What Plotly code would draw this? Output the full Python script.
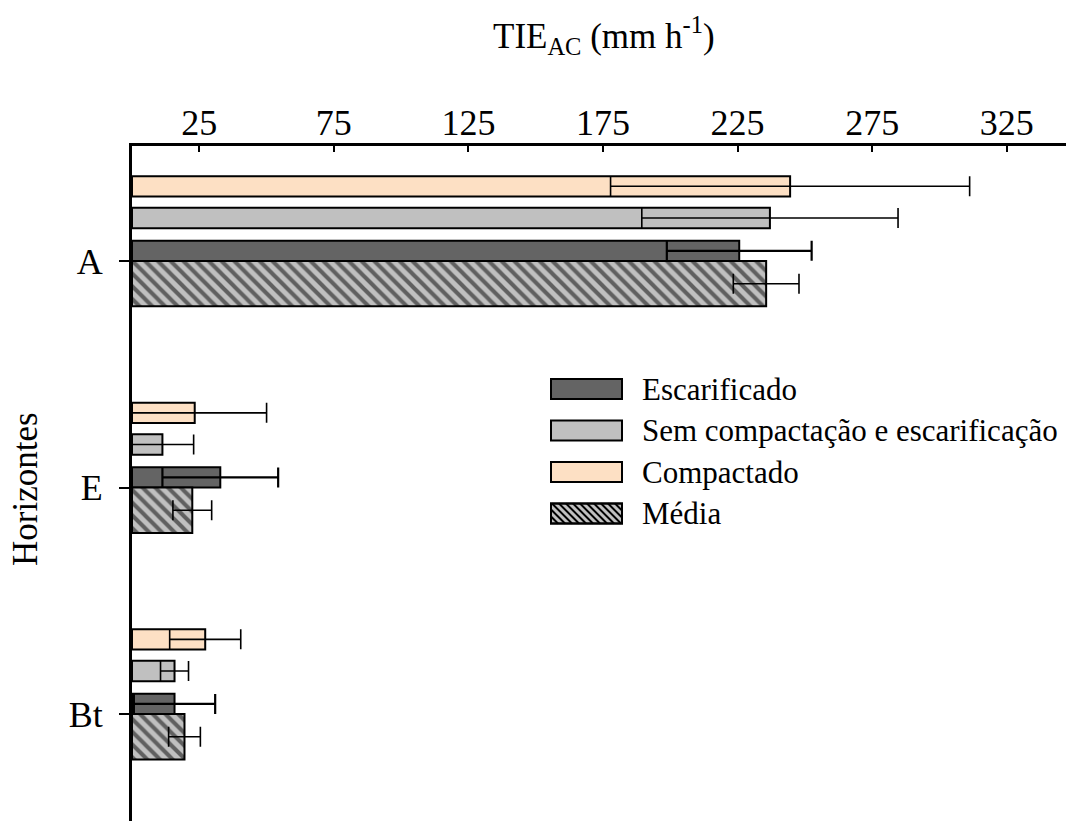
import plotly.graph_objects as go

# ---------------- data ----------------
horizons = ["A", "E", "Bt"]
series_names = ["Compactado", "Sem compactação e escarificação", "Escarificado", "Média"]
compactado = [244.5, 23.3, 27.2]
compactado_err = [66.7, 26.7, 13.2]
sem = [237.0, 11.3, 15.8]
sem_err = [47.6, 11.6, 5.2]
escarificado = [225.6, 32.8, 15.8]
escarificado_err = [26.9, 21.5, 15.1]
media = [235.6, 22.4, 19.5]
media_err = [12.2, 7.2, 5.9]
x_ticks = [25, 75, 125, 175, 225, 275, 325]

# ---------------- layout constants ----------------
FIG_W, FIG_H = 1066, 821
L, R, T, B = 132, 0, 146, 0
PW, PH = FIG_W - L - R, FIG_H - T - B
FONT = "Liberation Serif, Times New Roman, serif"

def px_x(px):
    return (px - L) / PW

def px_y(py):
    return 1 - (py - T) / PH

fig = go.Figure()

styles = {
    "Compactado": dict(color="#fde0c4", offset=-0.375, width=0.09, err_w=1.6),
    "Sem compactação e escarificação": dict(color="#c0c0c0", offset=-0.235, width=0.09, err_w=1.6),
    "Escarificado": dict(color="#646464", offset=-0.09, width=0.09, err_w=2.2),
    "Média": dict(color="#c0c0c0", offset=0.0, width=0.2, err_w=1.6),
}
vals = {
    "Compactado": (compactado, compactado_err),
    "Sem compactação e escarificação": (sem, sem_err),
    "Escarificado": (escarificado, escarificado_err),
    "Média": (media, media_err),
}

for name in series_names:
    v, e = vals[name]
    st = styles[name]
    marker = dict(color=st["color"], line=dict(color="black", width=2))
    if name == "Média":
        marker["pattern"] = dict(shape="\\", fgcolor="black", bgcolor="#c0c0c0",
                                 fillmode="overlay", size=9, solidity=0.45)
    fig.add_trace(go.Bar(
        y=horizons, x=v, orientation="h", name=name,
        offset=st["offset"], width=[st["width"]] * len(horizons),
        marker=marker,
        error_x=dict(type="data", array=e, symmetric=True, color="black",
                     thickness=st["err_w"], width=10),
        showlegend=False, hoverinfo="skip",
    ))

fig.update_layout(
    width=FIG_W, height=FIG_H,
    margin=dict(l=L, r=R, t=T, b=B, autoexpand=False),
    plot_bgcolor="white", paper_bgcolor="white",
    font=dict(family=FONT, color="black"),
    barmode="overlay",
    xaxis=dict(
        side="top", range=[0, 347], tickvals=x_ticks, ticktext=[str(t) for t in x_ticks],
        showgrid=False, zeroline=False, showline=True, linecolor="black", linewidth=3,
        ticks="inside", ticklen=6, tickwidth=2, tickcolor="black",
        tickfont=dict(size=36, family=FONT), automargin=False,
        ticklabelstandoff=-6,
    ),
    yaxis=dict(
        type="category", categoryarray=horizons, range=[2.472, -0.508],
        showgrid=False, zeroline=False, showline=True, linecolor="black", linewidth=3,
        ticks="outside", ticklen=10, tickwidth=2, tickcolor="black",
        tickfont=dict(size=36, family=FONT), automargin=False,
        ticklabelstandoff=9,
    ),
)

annotations = [
    dict(text="TIE<sub>AC</sub> (mm h<sup>-1</sup>)", x=px_x(604), y=px_y(36),
         xref="paper", yref="paper", showarrow=False, xanchor="center", yanchor="middle",
         font=dict(size=35, family=FONT)),
    dict(text="Horizontes", x=px_x(25), y=px_y(489), xref="paper", yref="paper",
         showarrow=False, textangle=-90, xanchor="center", yanchor="middle",
         font=dict(size=35, family=FONT)),
]

# ---------------- custom legend ----------------
legend_order = ["Escarificado", "Sem compactação e escarificação", "Compactado", "Média"]
box_x0, box_x1 = 551, 622
box_h = 20
centers = [389, 430.5, 472, 513.5]
shapes = []
for name, cy in zip(legend_order, centers):
    y0, y1 = cy - box_h / 2, cy + box_h / 2
    shapes.append(dict(type="rect", xref="paper", yref="paper",
                       x0=px_x(box_x0), x1=px_x(box_x1), y0=px_y(y1), y1=px_y(y0),
                       fillcolor=styles[name]["color"], line=dict(color="black", width=2)))
    if name == "Média":
        s = 7
        k = y0 - box_x1
        segs = []
        while k <= y1 - box_x0:
            xa = max(box_x0, y0 - k)
            xb = min(box_x1, y1 - k)
            if xb > xa:
                segs.append(f"M{px_x(xa):.5f},{px_y(xa + k):.5f}L{px_x(xb):.5f},{px_y(xb + k):.5f}")
            k += s
        shapes.append(dict(type="path", xref="paper", yref="paper", path="".join(segs),
                           line=dict(color="black", width=2)))
        shapes.append(dict(type="rect", xref="paper", yref="paper",
                           x0=px_x(box_x0), x1=px_x(box_x1), y0=px_y(y1), y1=px_y(y0),
                           line=dict(color="black", width=2)))
    annotations.append(dict(text=name, x=px_x(640), y=px_y(cy), xref="paper", yref="paper",
                            showarrow=False, xanchor="left", yanchor="middle",
                            font=dict(size=31, family=FONT)))

fig.update_layout(annotations=annotations, shapes=shapes)
fig.write_html("out.html", config={"displayModeBar": False},
               post_script="document.body.style.margin='0';document.body.style.overflow='hidden';")
